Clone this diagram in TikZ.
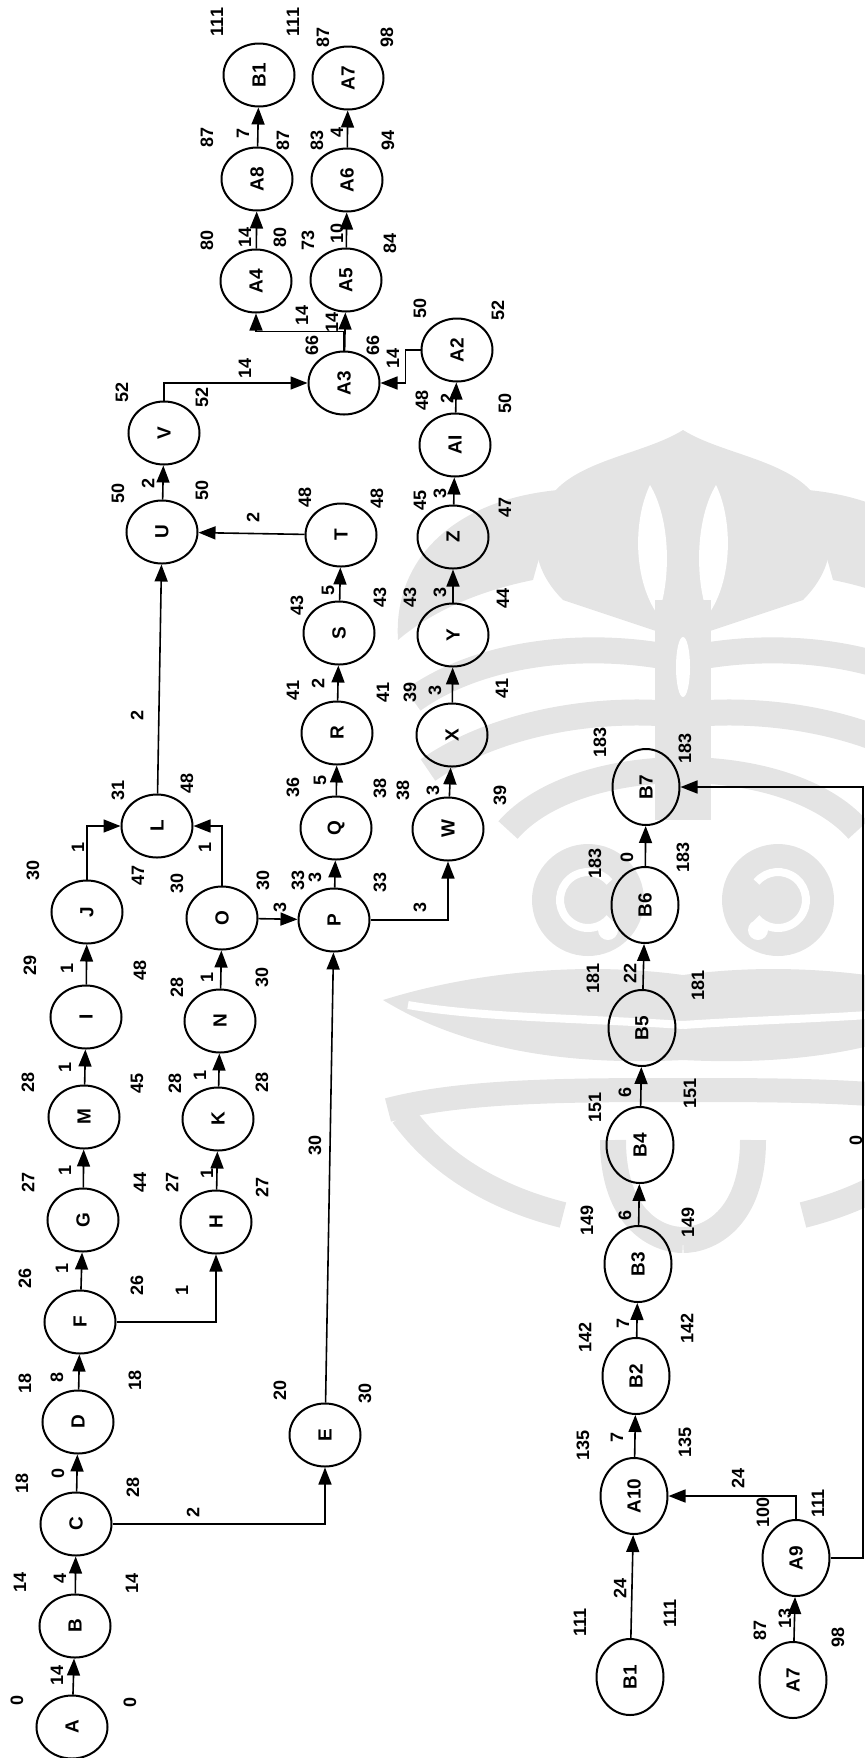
\documentclass[tikz,border=0pt]{standalone}
\usepackage{fontspec}
\setmainfont{Liberation Sans}
\usetikzlibrary{arrows.meta}
\usetikzlibrary{shapes.geometric}

\definecolor{wmgray}{gray}{0.895}

\begin{document}
\begin{tikzpicture}[x=0.5pt,y=-0.5pt,
  ev/.style={draw, ellipse, line width=1pt, minimum width=35.5pt, minimum height=31.5pt, inner sep=0pt, font=\fontsize{9.5}{10}\selectfont\bfseries},
  evb/.style={ev, minimum width=33.5pt, minimum height=38pt},
  tval/.style={rotate=90, inner sep=0pt, font=\fontsize{9}{10}\selectfont\bfseries},
  arr/.style={line width=0.8pt, -{Triangle[length=8.5pt,width=6.5pt]}}]

\useasboundingbox (0,0) rectangle (865,1758);

% watermark ornament, left half mirrored about its axis
\foreach \s in {1,-1}{
\begin{scope}[shift={(683,0)}, xscale=\s, wmgray]
  \fill (0,430) .. controls (-40,455) and (-110,460) .. (-135,500)
        .. controls (-155,535) and (-150,570) .. (-120,600) -- (0,640) -- cycle; %dome
  \fill[white] (-33,485) .. controls (-50,520) and (-50,580) .. (-25,615)
        .. controls (-12,580) and (-12,520) .. (-33,485) -- cycle;
  \fill (-125,490) .. controls (-230,500) and (-290,560) .. (-285,640)
        .. controls (-250,610) and (-200,590) .. (-150,580) -- cycle; %outer leaf
  \fill (-28,600) rectangle (0,820); %trunk
  \draw[line width=13pt] (0,660) .. controls (-90,640) and (-200,650) .. (-270,700);
  \draw[line width=13pt] (0,715) .. controls (-90,705) and (-190,725) .. (-255,770);
  \draw[line width=13pt] (0,770) .. controls (-70,770) and (-140,790) .. (-175,830);
  \fill (-95,900) circle[radius=28pt]; %curl
  \draw[white, line width=4pt] ([shift={(-95,900)}] 40:14pt) arc[start angle=40, end angle=320, radius=14pt];
  \fill[white] (-75,930) circle[radius=5pt];
  \fill (0,975) .. controls (-110,960) and (-220,975) .. (-300,1000)
        .. controls (-210,1055) and (-100,1065) .. (0,1060) -- cycle; %wing
  \draw[white, line width=4pt] (0,1025) .. controls (-100,1018) and (-200,1018) .. (-275,1005);
  \draw[line width=12pt] (0,1090) .. controls (-110,1090) and (-220,1090) .. (-295,1110);
  \draw[line width=13pt] (-70,1140) .. controls (-70,1220) and (-25,1240) .. (0,1240); %bowl
  \draw[line width=13pt] (-280,1115) .. controls (-240,1170) and (-180,1200) .. (-120,1215);
\end{scope}
}
\fill[white] (683,667) ellipse[x radius=3.5pt, y radius=15pt];

\newcommand{\event}[4]{% name, x, y, text
  \node[ev] (#1) at (#2,#3) {\rotatebox{90}{#4}};
}
\newcommand{\eventb}[4]{% name, x, y, text (taller ones)
  \node[evb] (#1) at (#2,#3) {\rotatebox{90}{#4}};
}
\newcommand{\tval}[3]{% x, y, value
  \node[tval] at (#1,#2) {#3};
}

% left network
\foreach \n/\x/\y in {A/72/1727, B/75/1626, C/76/1524, D/78/1422, F/80/1322,
    G/83/1220, M/84/1117, I/86/1017, J/87/912, E/325/1435, H/216/1222,
    K/218/1119, N/220/1021, O/222/918, P/334/920, L/157/826, Q/336/828,
    R/337/733, S/339/633, T/341/535, U/162/532, V/164/433, W/448/829,
    X/452/735, Y/453/635, Z/453/537, AI/455/445, A2/457/350, A3/344/383,
    A4/256/281, A5/346/280, A8/257/179, A6/347/180}
  \event{\n}{\x}{\y}{\n};
\event{B1t}{259}{75}{B1}
\event{A7t}{348}{78}{A7}

% right chain
\foreach \n/\x/\y in {B7/646/787, B6/645/905, B5/642/1028, B4/640/1145,
    B3/638/1264, B2/636/1376, A10/634/1496, A9/796/1558}
  \eventb{\n}{\x}{\y}{\n};
\eventb{B1b}{630}{1677}{B1}
\eventb{A7b}{793}{1680}{A7}

% straight links
\foreach \a/\b in {A/B, B/C, C/D, D/F, F/G, G/M, M/I, I/J, H/K, K/N, N/O,
    P/Q, Q/R, R/S, S/T, U/V, W/X, X/Y, Y/Z, Z/AI, AI/A2, A3/A5, A4/A8,
    A8/B1t, A5/A6, A6/A7t, B1b/A10, A7b/A9, A10/B2, B2/B3, B3/B4, B4/B5,
    B5/B6, B6/B7, E/P, L/U, O/P, T/U}
  \draw[arr] (\a) -- (\b);

% bent links
\draw[arr] (C) -| (E);
\draw[arr] (F) -| (H);
\draw[arr] (J) |- (L);
\draw[arr] (O) |- (L);
\draw[arr] (P) -| (W);
\draw[arr] (V) |- (A3);
\draw[arr] (A2.west) -- ++(-15,0) |- (A3.east);
\draw[arr] (A3.north) -- ++(0,-19) -| (A4.south);
\draw[arr] (A9) |- (A10);
\coordinate (rim) at (863,1558);
\draw[arr] (A9) -- (rim) |- (B7);

% durations on the links
\foreach \x/\y/\t in {57/1675/14, 60/1578/4, 58/1473/0, 57/1377/8, 62/1268/1,
    65/1170/1, 65/1067/1, 67/968/1, 193/1512/2, 182/1290/1, 207/1173/1,
    200/1075/1, 207/977/1, 280/907/3, 315/1145/30, 78/847/1, 205/847/1,
    137/715/2, 315/877/3, 420/907/3, 320/780/5, 318/683/2, 328/590/5,
    253/517/2, 148/483/2, 245/368/14, 433/790/3, 435/690/3, 440/592/3,
    440/493/3, 447/398/2, 393/358/14, 332/322/14, 302/315/14, 245/237/14,
    337/233/10, 243/133/7, 337/132/4, 620/1588/24, 785/1618/13, 738/1478/24,
    617/1437/7, 623/1323/7, 625/1215/6, 625/1092/6, 630/973/22, 627/857/0,
    856/1140/0}
  \tval{\x}{\y}{\t};

% early / late times beside the events
\foreach \x/\y/\t in {17/1700/0, 130/1702/0, 20/1582/14, 132/1583/14,
    22/1483/18, 133/1487/28, 25/1383/18, 135/1380/18, 25/1278/26, 137/1285/26,
    28/1182/27, 140/1182/44, 28/1082/28, 137/1083/45, 30/965/29, 140/970/48,
    33/870/30, 138/875/47, 280/1390/20, 365/1393/30, 172/1182/27, 262/1187/27,
    175/1083/28, 262/1082/28, 177/987/28, 262/977/30, 177/883/30, 263/880/30,
    298/880/33, 380/882/33, 118/790/31, 187/783/48, 293/787/36, 380/788/38,
    293/690/41, 383/692/41, 297/605/43, 380/597/43, 305/497/48, 377/498/48,
    118/493/50, 202/490/50, 122/392/52, 202/397/52, 403/790/38, 500/795/39,
    410/692/39, 502/688/41, 410/597/43, 503/598/44, 420/500/45, 505/507/47,
    422/400/48, 505/403/50, 420/308/50, 498/310/52, 312/345/66, 373/345/66,
    207/240/80, 280/237/80, 308/240/73, 390/243/84, 207/137/87, 283/140/87,
    317/140/83, 388/140/94, 217/22/111, 293/22/111, 323/37/87, 387/37/98}
  \tval{\x}{\y}{\t};
\foreach \x/\y/\t in {600/742/183, 685/748/183, 595/863/183, 683/857/183,
    593/978/181, 698/985/181, 595/1107/151, 690/1093/151, 587/1220/149,
    688/1222/149, 585/1337/142, 687/1328/142, 583/1445/135, 685/1442/135,
    763/1512/100, 818/1503/111, 580/1622/111, 670/1613/111, 760/1630/87,
    838/1637/98}
  \tval{\x}{\y}{\t};
\end{tikzpicture}
\end{document}
